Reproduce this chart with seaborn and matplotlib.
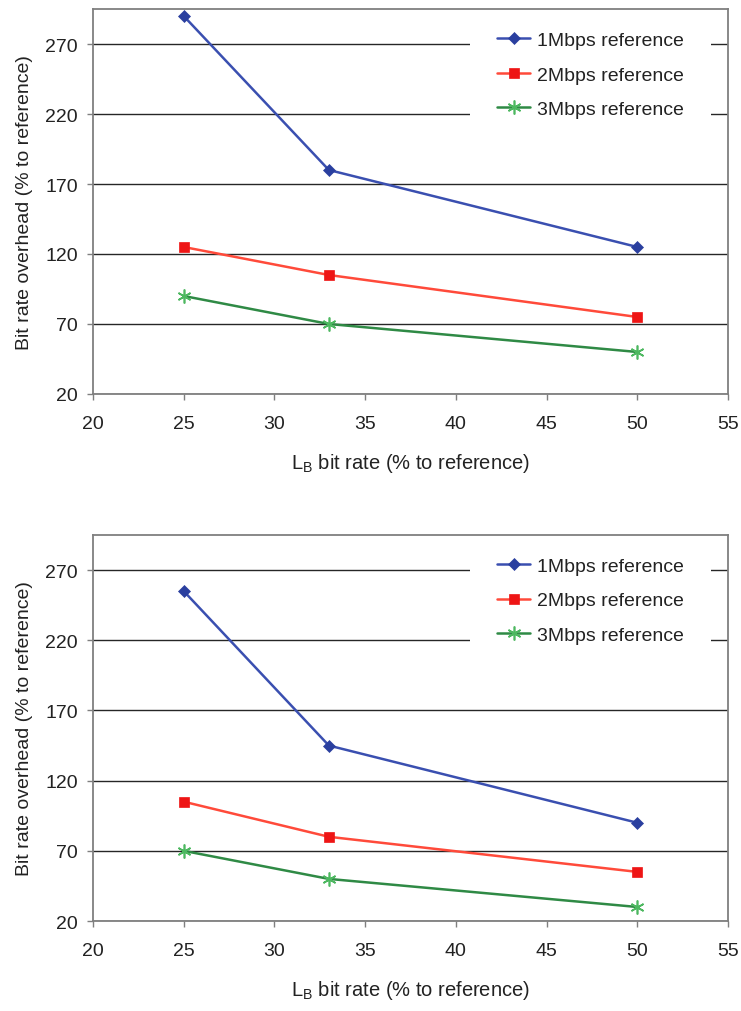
import matplotlib
matplotlib.use("Agg")
import matplotlib.pyplot as plt
import pandas as pd
import seaborn as sns

# LB bit rate (% to reference) on the x axis
lb_rate = [25, 33, 50]
series_names = ["1Mbps reference", "2Mbps reference", "3Mbps reference"]

# Upper panel: bit rate overhead (% to reference)
upper_1mbps = [290, 180, 125]
upper_2mbps = [125, 105, 75]
upper_3mbps = [90, 70, 50]

# Lower panel: bit rate overhead (% to reference)
lower_1mbps = [255, 145, 90]
lower_2mbps = [105, 80, 55]
lower_3mbps = [70, 50, 30]

x_ticks = [20, 25, 30, 35, 40, 45, 50, 55]
y_ticks = [20, 70, 120, 170, 220, 270]

sns.set_style("white")
plt.rcParams["font.family"] = ["Liberation Sans", "DejaVu Sans"]
plt.rcParams["mathtext.fontset"] = "custom"
plt.rcParams["mathtext.rm"] = "Liberation Sans"

line_colors = ["#3A4FB0", "#FF4A3A", "#2F8A45"]
marker_colors = ["#2A3F9F", "#EE1515", "#4DB860"]
markers = ["D", "s", (6, 2, 0)]
marker_sizes = [6, 7, 10]
marker_widths = [0.5, 0.5, 1.2]

text_color = "#222222"
spine_color = "#7F7F7F"

fig = plt.figure(figsize=(7.41, 10.12), dpi=100)
ax_top = fig.add_axes([0.1255, 0.6097, 0.857, 0.3804])
ax_bot = fig.add_axes([0.1255, 0.0889, 0.857, 0.3815])


def draw_panel(ax, values):
    frames = []
    for name, vals in zip(series_names, values):
        frames.append(pd.DataFrame({"lb": lb_rate, "overhead": vals, "series": name}))
    df = pd.concat(frames, ignore_index=True)

    for i, name in enumerate(series_names):
        sub = df[df["series"] == name]
        sns.lineplot(
            data=sub, x="lb", y="overhead", ax=ax,
            color=line_colors[i], linewidth=1.8,
            marker=markers[i], markersize=marker_sizes[i],
            markerfacecolor=marker_colors[i], markeredgecolor=marker_colors[i],
            markeredgewidth=marker_widths[i], label=name, zorder=3,
        )

    ax.set_xlim(20, 55)
    ax.set_ylim(20, 295)
    ax.set_xticks(x_ticks)
    ax.set_yticks(y_ticks)
    ax.set_axisbelow(True)
    ax.yaxis.grid(True, color="#262626", linewidth=1.0)
    ax.xaxis.grid(False)

    for sp in ax.spines.values():
        sp.set_visible(True)
        sp.set_color(spine_color)
        sp.set_linewidth(1.3)

    ax.tick_params(axis="both", direction="out", length=4, width=1.0,
                   color=spine_color, labelsize=14, labelcolor=text_color)
    ax.tick_params(axis="x", pad=11, bottom=True)
    ax.tick_params(axis="y", pad=7, left=True)

    ax.set_xlabel(r"L$_{\mathregular{B}}$ bit rate (% to reference)",
                  fontsize=14.5, color=text_color, labelpad=14)
    ax.set_ylabel("Bit rate overhead (% to reference)",
                  fontsize=14, color=text_color, labelpad=9)

    leg = ax.legend(loc="upper left", bbox_to_anchor=(0.594, 1.012),
                    fontsize=14, frameon=True, facecolor="white",
                    edgecolor="none", framealpha=1.0, fancybox=False,
                    borderpad=1.4, handlelength=1.7, handletextpad=0.35,
                    labelspacing=0.86, borderaxespad=0.0)
    for t in leg.get_texts():
        t.set_color(text_color)
    leg.set_zorder(2.2)


draw_panel(ax_top, [upper_1mbps, upper_2mbps, upper_3mbps])
draw_panel(ax_bot, [lower_1mbps, lower_2mbps, lower_3mbps])

fig.savefig("out.png", dpi=100, facecolor="white")
